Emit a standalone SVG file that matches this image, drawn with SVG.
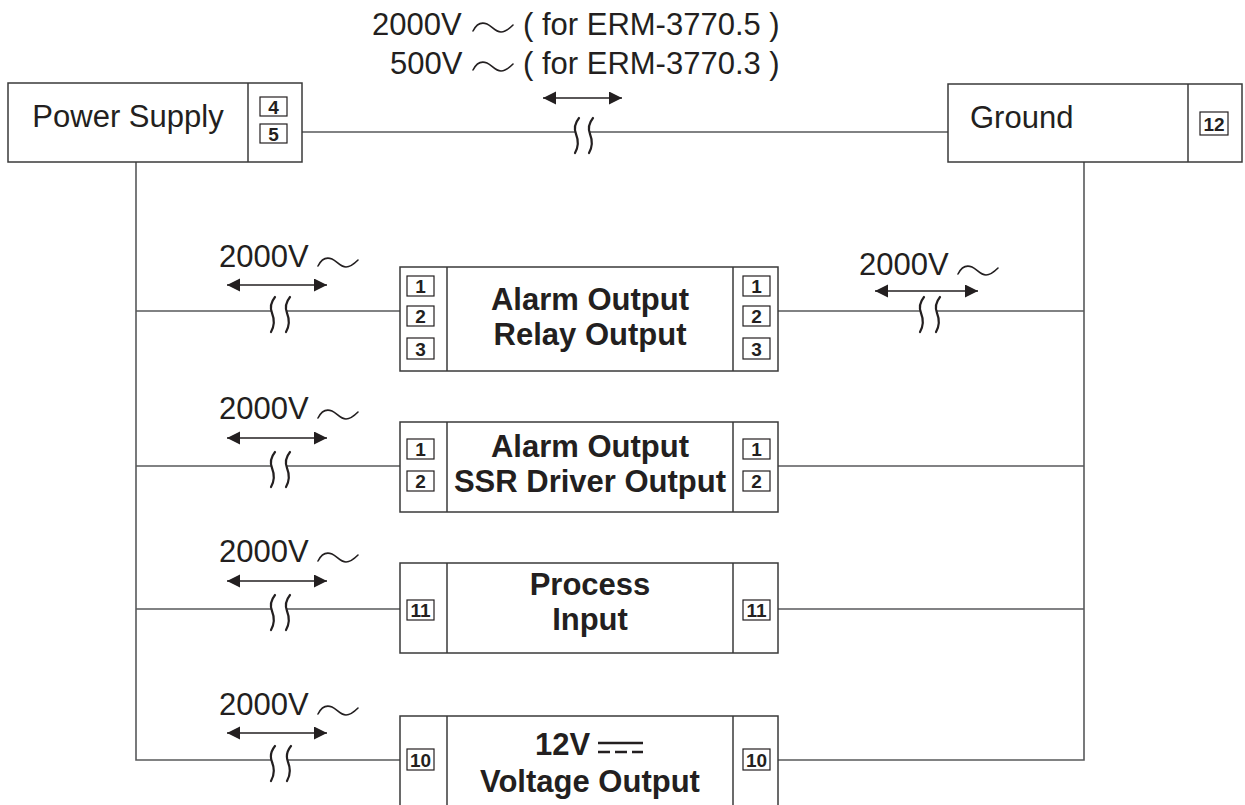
<svg xmlns="http://www.w3.org/2000/svg" width="1245" height="805" viewBox="0 0 1245 805">
<style>
  text { font-family: "Liberation Sans", Arial, sans-serif; fill: #231f20; }
  .lbl { font-size: 31px; }
  .mid { text-anchor: middle; }
  .big { font-size: 31px; font-weight: bold; }
  .tn { font-size: 19px; font-weight: bold; text-anchor: middle; }
  .box { fill: #ffffff; stroke: #3a3a3a; stroke-width: 1.5; }
  .div { stroke: #3a3a3a; stroke-width: 1.5; fill: none; }
  .term { fill: #ffffff; stroke: #231f20; stroke-width: 1.2; }
  .wire { fill: none; stroke: #58595b; stroke-width: 1.6; }
  .brk { fill: none; stroke: #231f20; stroke-width: 2.2; stroke-linecap: round; }
  .wave { fill: none; stroke: #231f20; stroke-width: 1.6; stroke-linecap: round; }
  .arr { fill: none; stroke: #231f20; stroke-width: 1.5; marker-start: url(#ah); marker-end: url(#ah); }
</style>
<defs>
  <marker id="ah" markerUnits="userSpaceOnUse" markerWidth="14" markerHeight="14" refX="13" refY="6.5" orient="auto-start-reverse">
    <path d="M0,0 L13,6.5 L0,13 z" fill="#231f20"/>
  </marker>
  <path id="wave" class="wave" d="M0,4 C4,-4 9,-5 14,-3 C19,-1 22,5 28,5 C33,5 37,1 40,-2"/>
  <path id="stroke1" class="brk" d="M3,-14 C-1,-9 -2,-3 0,2 C2,7 3,14 -1,21"/>
</defs>

<!-- connectors -->
<g id="connectors">
  <path class="wire" d="M302,132 H576 M590,132 H948"/>
  <path class="wire" d="M136,162 V760 H272 M288,760 H400"/>
  <path class="wire" d="M136,311 H272 M287,311 H400"/>
  <path class="wire" d="M136,466 H272 M287,466 H400"/>
  <path class="wire" d="M136,609 H272 M287,609 H400"/>
  <path class="wire" d="M1084,162 V760 H778"/>
  <path class="wire" d="M778,311 H921 M937,311 H1084"/>
  <path class="wire" d="M778,466 H1084"/>
  <path class="wire" d="M778,609 H1084"/>
  <!-- break symbols -->
  <use href="#stroke1" x="576" y="132"/><use href="#stroke1" x="590" y="132"/>
  <use href="#stroke1" x="272" y="311"/><use href="#stroke1" x="287" y="311"/>
  <use href="#stroke1" x="921" y="311"/><use href="#stroke1" x="937" y="311"/>
  <use href="#stroke1" x="272" y="466"/><use href="#stroke1" x="287" y="466"/>
  <use href="#stroke1" x="272" y="609"/><use href="#stroke1" x="287" y="609"/>
  <use href="#stroke1" x="272" y="760"/><use href="#stroke1" x="288" y="760"/>
  <!-- arrows -->
  <path class="arr" d="M543,98 H622"/>
  <path class="arr" d="M227,285 H327"/>
  <path class="arr" d="M875,291 H978"/>
  <path class="arr" d="M227,438 H327"/>
  <path class="arr" d="M227,581 H327"/>
  <path class="arr" d="M227,733 H327"/>
</g>

<!-- voltage labels -->
<g id="labels">
  <text class="lbl" x="372" y="35">2000V</text>
  <use href="#wave" x="473" y="27"/>
  <text class="lbl" x="523" y="35">( for ERM-3770.5 )</text>
  <text class="lbl" x="390" y="74">500V</text>
  <use href="#wave" x="473" y="66"/>
  <text class="lbl" x="523" y="74">( for ERM-3770.3 )</text>

  <text class="lbl" x="219" y="267">2000V</text><use href="#wave" x="318" y="262"/>
  <text class="lbl" x="859" y="275">2000V</text><use href="#wave" x="958" y="270"/>
  <text class="lbl" x="219" y="419">2000V</text><use href="#wave" x="318" y="414"/>
  <text class="lbl" x="219" y="562">2000V</text><use href="#wave" x="318" y="557"/>
  <text class="lbl" x="219" y="715">2000V</text><use href="#wave" x="318" y="710"/>
</g>

<g id="power-supply">
  <rect class="box" x="8" y="83" width="294" height="79"/>
  <line class="div" x1="248" y1="83" x2="248" y2="162"/>
  <text class="lbl mid" x="128" y="127">Power Supply</text>
  <rect class="term" x="260" y="97" width="27" height="19"/><text class="tn" x="273.5" y="113.5">4</text>
  <rect class="term" x="260" y="124" width="27" height="19"/><text class="tn" x="273.5" y="140.5">5</text>
</g>

<g id="ground">
  <rect class="box" x="948" y="84" width="294" height="78"/>
  <line class="div" x1="1188" y1="84" x2="1188" y2="162"/>
  <text class="lbl" x="970" y="128">Ground</text>
  <rect class="term" x="1200" y="112" width="28" height="23"/><text class="tn" x="1214" y="130.5">12</text>
</g>

<g id="alarm-relay">
  <rect class="box" x="400" y="267" width="378" height="104"/>
  <line class="div" x1="447" y1="267" x2="447" y2="371"/>
  <line class="div" x1="733" y1="267" x2="733" y2="371"/>
  <text class="big mid" x="590" y="310">Alarm Output</text>
  <text class="big mid" x="590" y="345">Relay Output</text>
  <rect class="term" x="407" y="276" width="27" height="20"/><text class="tn" x="420.5" y="293">1</text>
  <rect class="term" x="407" y="306" width="27" height="20"/><text class="tn" x="420.5" y="323">2</text>
  <rect class="term" x="407" y="338" width="27" height="21"/><text class="tn" x="420.5" y="355.5">3</text>
  <rect class="term" x="743" y="276" width="27" height="20"/><text class="tn" x="756.5" y="293">1</text>
  <rect class="term" x="743" y="306" width="27" height="20"/><text class="tn" x="756.5" y="323">2</text>
  <rect class="term" x="743" y="338" width="27" height="21"/><text class="tn" x="756.5" y="355.5">3</text>
</g>

<g id="alarm-ssr">
  <rect class="box" x="400" y="422" width="378" height="90"/>
  <line class="div" x1="447" y1="422" x2="447" y2="512"/>
  <line class="div" x1="733" y1="422" x2="733" y2="512"/>
  <text class="big mid" x="590" y="457">Alarm Output</text>
  <text class="big mid" x="590" y="492">SSR Driver Output</text>
  <rect class="term" x="407" y="439" width="27" height="20"/><text class="tn" x="420.5" y="456">1</text>
  <rect class="term" x="407" y="471" width="27" height="20"/><text class="tn" x="420.5" y="488">2</text>
  <rect class="term" x="743" y="439" width="27" height="20"/><text class="tn" x="756.5" y="456">1</text>
  <rect class="term" x="743" y="471" width="27" height="20"/><text class="tn" x="756.5" y="488">2</text>
</g>

<g id="process-input">
  <rect class="box" x="400" y="563" width="378" height="90"/>
  <line class="div" x1="447" y1="563" x2="447" y2="653"/>
  <line class="div" x1="733" y1="563" x2="733" y2="653"/>
  <text class="big mid" x="590" y="595">Process</text>
  <text class="big mid" x="590" y="630">Input</text>
  <rect class="term" x="407" y="600" width="27" height="20"/><text class="tn" x="420.5" y="617">11</text>
  <rect class="term" x="743" y="600" width="27" height="20"/><text class="tn" x="756.5" y="617">11</text>
</g>

<g id="voltage-output">
  <rect class="box" x="400" y="716" width="378" height="120"/>
  <line class="div" x1="447" y1="716" x2="447" y2="836"/>
  <line class="div" x1="733" y1="716" x2="733" y2="836"/>
  <text class="big" x="535" y="755">12V</text>
  <path d="M598,743 H643 M598,752 H610 M615,752 H627 M632,752 H643" stroke="#231f20" stroke-width="2.4" fill="none"/>
  <text class="big mid" x="590" y="792">Voltage Output</text>
  <rect class="term" x="407" y="749" width="27" height="21"/><text class="tn" x="420.5" y="766.5">10</text>
  <rect class="term" x="743" y="749" width="27" height="21"/><text class="tn" x="756.5" y="766.5">10</text>
</g>
</svg>
